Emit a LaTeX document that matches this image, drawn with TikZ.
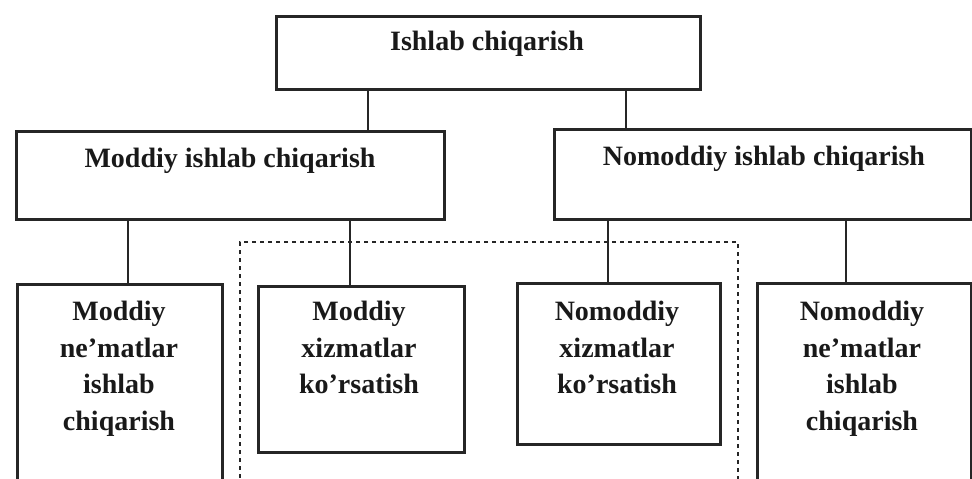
\documentclass[tikz,border=0pt]{standalone}
\usepackage{fontspec}
\setmainfont{Liberation Serif}
\begin{document}
\begin{tikzpicture}[x=1pt,y=-1pt,
  box/.style={draw=black!85, line width=3pt, inner sep=0pt, anchor=north west},
  lbl/.style={font=\bfseries\fontsize{28}{36.5}\selectfont, align=center, inner sep=0pt, text=black!90},
  link/.style={draw=black!85, line width=2.8pt},
  group/.style={draw=black!85, line width=2.4pt, dash pattern=on 4pt off 4pt, inner sep=0pt, anchor=north west}]
\useasboundingbox (0,0) rectangle (972,479);
\clip (0,0) rectangle (972,479);
% boxes
\node[box, minimum width=424pt, minimum height=73pt] (top) at (275,15) {};
\node[box, minimum width=428pt, minimum height=88pt] (md) at (15,130) {};
\node[box, minimum width=417pt, minimum height=90pt] (nm) at (553,128) {};
\node[group, minimum width=498pt, minimum height=260pt] (grp) at (239,241) {};
\node[box, minimum width=205pt, minimum height=217pt] (b1) at (16,283) {};
\node[box, minimum width=206pt, minimum height=166pt] (b2) at (257,285) {};
\node[box, minimum width=203pt, minimum height=161pt] (b3) at (516,282) {};
\node[box, minimum width=214pt, minimum height=218pt] (b4) at (756,282) {};
% labels
\node[lbl, anchor=base] (ttop) at (487,50) {Ishlab chiqarish};
\node[lbl, anchor=base] (tmd) at (230,167) {Moddiy ishlab chiqarish};
\node[lbl, anchor=base] (tnm) at (764,165) {Nomoddiy ishlab chiqarish};
\node[lbl, anchor=north] (t1) at (119,301) {Moddiy\\ne'matlar\\ishlab\\chiqarish};
\node[lbl, anchor=north] (t2) at (359,301) {Moddiy\\xizmatlar\\ko'rsatish};
\node[lbl, anchor=north] (t3) at (617,301) {Nomoddiy\\xizmatlar\\ko'rsatish};
\node[lbl, anchor=north] (t4) at (862,301) {Nomoddiy\\ne'matlar\\ishlab\\chiqarish};
% connectors
\draw[link] (top.south -| 368,0) -- (md.north -| 368,0);
\draw[link] (top.south -| 626,0) -- (nm.north -| 626,0);
\draw[link] (md.south -| 128,0) -- (b1.north -| 128,0);
\draw[link] (md.south -| 350,0) -- (b2.north -| 350,0);
\draw[link] (nm.south -| 608,0) -- (b3.north -| 608,0);
\draw[link] (nm.south -| 846,0) -- (b4.north -| 846,0);
\end{tikzpicture}
\end{document}
